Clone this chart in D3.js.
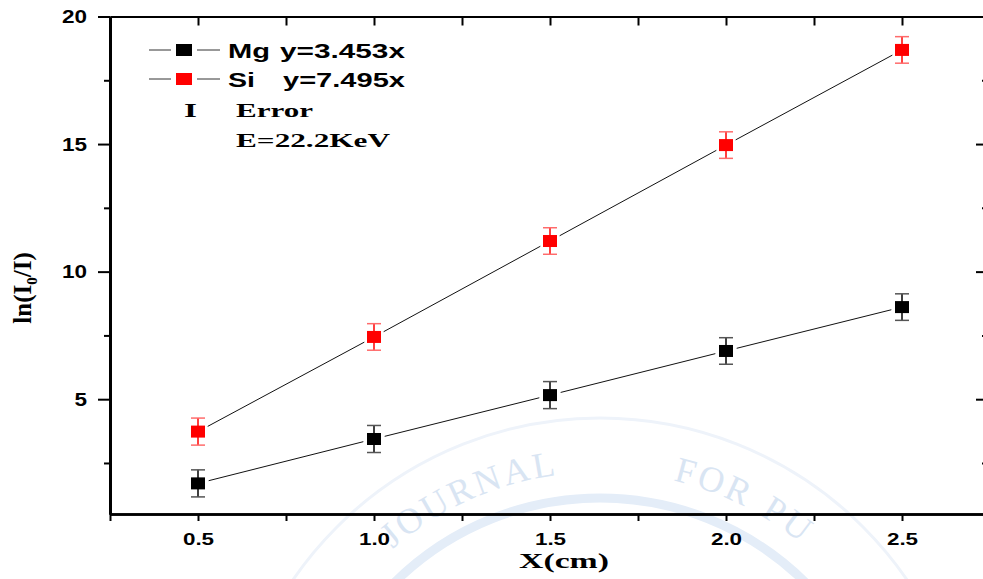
<!DOCTYPE html>
<html><head><meta charset="utf-8">
<script src="https://cdn.jsdelivr.net/npm/d3@7"></script>
<style>html,body{margin:0;padding:0;background:#fff;overflow:hidden}</style>
</head><body><svg id="c" width="983" height="579"></svg>
<script>
// ---- data ----
const xValues = [0.5, 1.0, 1.5, 2.0, 2.5];
const mgValues = [1.70, 3.44, 5.16, 6.89, 8.61];
const siValues = [3.73, 7.44, 11.20, 14.96, 18.69];
const mgErrors = [0.53, 0.53, 0.53, 0.52, 0.52];
const siErrors = [0.53, 0.52, 0.52, 0.52, 0.52];
const xTickLabels = ["0.5", "1.0", "1.5", "2.0", "2.5"];
const yTickValues = [5, 10, 15, 20];
const yTickLabels = ["5", "10", "15", "20"];
const yMinorTicks = [2.5, 7.5, 12.5, 17.5];
const xMinorTicks = [0.25, 0.75, 1.25, 1.75, 2.25, 2.75];
const legendMg = ["Mg", "y=3.453x"];
const legendSi = ["Si", "y=7.495x"];
const legendNotes = ["I", "Error", "E=22.2KeV"];
const xTitle = "X(cm)";
const watermarkWords = ["JOURNAL", "FOR PU"];

const series = [
  {name: "Mg", values: mgValues, errors: mgErrors, color: "#000000", cap: "#555555"},
  {name: "Si", values: siValues, errors: siErrors, color: "#ff0000", cap: "#ff6b6b"}
];

const svg = d3.select("#c");
const L = 110, R = 990, T = 16.5, B = 514;
const x = d3.scaleLinear().domain([0.25, 2.75]).range([L, R]);
const y = d3.scaleLinear().domain([0.5, 20]).range([B, T]);
const SANS = "'Liberation Sans', Arial, sans-serif";
const SERIF = "'Liberation Serif', 'Times New Roman', serif";

// ---- faint journal watermark (letters placed one by one along an arc) ----
const wm = svg.append("g").attr("fill", "none");
const cx = 600, cy = 790;
wm.append("circle").attr("cx", cx).attr("cy", cy).attr("r", 292).attr("stroke", "#e4edf8").attr("stroke-width", 9);
wm.append("circle").attr("cx", cx).attr("cy", cy).attr("r", 372).attr("stroke", "#eef3fa").attr("stroke-width", 3);
const rr = 318, deg = Math.PI / 180;
[[watermarkWords[0], -41], [watermarkWords[1], 13]].forEach(([w, startDeg]) => {
  let theta = startDeg * deg;
  for (const ch of w) {
    const t = wm.append("text").attr("fill", "#d9e5f3").attr("font-family", SERIF)
      .attr("font-size", 36).attr("text-anchor", "middle").text(ch);
    const cw = ch === " " ? 12 : t.node().getComputedTextLength();
    const half = (cw / 2 + 1.5) / rr;
    const a = theta + half;
    const px = cx + rr * Math.sin(a), py = cy - rr * Math.cos(a);
    t.attr("transform", `translate(${px},${py}) rotate(${a / deg})`);
    if (ch === " ") t.remove();
    theta += 2 * half;
  }
});

// ---- connecting lines (shortened near markers) ----
const gap = 11;
series.forEach(s => {
  for (let i = 0; i < xValues.length - 1; i++) {
    const x1 = x(xValues[i]), y1 = y(s.values[i]);
    const x2 = x(xValues[i + 1]), y2 = y(s.values[i + 1]);
    const len = Math.hypot(x2 - x1, y2 - y1);
    const ux = (x2 - x1) / len, uy = (y2 - y1) / len;
    svg.append("line")
      .attr("x1", x1 + ux * gap).attr("y1", y1 + uy * gap)
      .attr("x2", x2 - ux * gap).attr("y2", y2 - uy * gap)
      .attr("stroke", "#111").attr("stroke-width", 1);
  }
});

// ---- error bars and markers ----
series.forEach(s => {
  const g = svg.append("g");
  xValues.forEach((xv, i) => {
    const px = x(xv), lo = y(s.values[i] - s.errors[i]), hi = y(s.values[i] + s.errors[i]);
    g.append("line").attr("x1", px).attr("x2", px).attr("y1", lo).attr("y2", hi)
      .attr("stroke", s.color).attr("stroke-width", 1.5);
    [lo, hi].forEach(cyv => g.append("line").attr("x1", px - 7).attr("x2", px + 7)
      .attr("y1", cyv).attr("y2", cyv).attr("stroke", s.cap).attr("stroke-width", 1.5));
    g.append("rect").attr("x", px - 7).attr("y", y(s.values[i]) - 6)
      .attr("width", 14).attr("height", 12).attr("fill", s.color);
  });
});

// ---- axes ----
function styleAxis(g, w) {
  g.select(".domain").attr("stroke", "#000").attr("stroke-width", w);
  g.selectAll(".tick line").attr("stroke", "#000").attr("stroke-width", 2);
}
// left
const gl = svg.append("g").attr("transform", `translate(${L},0)`)
  .call(d3.axisLeft(y).tickValues(yTickValues).tickSize(12).tickSizeOuter(0)
    .tickFormat((d, i) => yTickLabels[i]));
styleAxis(gl, 3);
gl.selectAll(".tick text").attr("x", 0).attr("dy", "0.35em")
  .attr("transform", "translate(-23,0) scale(1.25,1)")
  .attr("font-family", SANS).attr("font-weight", "bold").attr("font-size", 18).attr("fill", "#000");
const glm = svg.append("g").attr("transform", `translate(${L},0)`)
  .call(d3.axisLeft(y).tickValues(yMinorTicks).tickSize(6).tickSizeOuter(0).tickFormat(""));
styleAxis(glm, 3);
// right (ticks inward)
const gr = svg.append("g").attr("transform", `translate(${R},0)`)
  .call(d3.axisLeft(y).tickValues(yTickValues).tickSize(14).tickSizeOuter(0).tickFormat(""));
styleAxis(gr, 2);
const grm = svg.append("g").attr("transform", `translate(${R},0)`)
  .call(d3.axisLeft(y).tickValues(yMinorTicks).tickSize(8).tickSizeOuter(0).tickFormat(""));
styleAxis(grm, 2);
// bottom
const gb = svg.append("g").attr("transform", `translate(0,${B})`)
  .call(d3.axisBottom(x).tickValues(xValues).tickSize(7).tickSizeOuter(0)
    .tickFormat((d, i) => xTickLabels[i]));
styleAxis(gb, 2.5);
gb.selectAll(".tick text").attr("y", 31).attr("dy", null)
  .attr("transform", "scale(1.4,1)")
  .attr("font-family", SANS).attr("font-weight", "bold").attr("font-size", 16).attr("fill", "#000");
const gbm = svg.append("g").attr("transform", `translate(0,${B})`)
  .call(d3.axisBottom(x).tickValues(xMinorTicks).tickSize(7).tickSizeOuter(0).tickFormat(""));
styleAxis(gbm, 2.5);
// top (ticks inward)
const gt = svg.append("g").attr("transform", `translate(0,${T})`)
  .call(d3.axisBottom(x).tickValues(xValues.concat(xMinorTicks)).tickSize(9).tickSizeOuter(0).tickFormat(""));
styleAxis(gt, 2);

// ---- axis titles ----
svg.append("text").attr("x", 519).attr("y", 568)
  .attr("textLength", 90).attr("lengthAdjust", "spacingAndGlyphs")
  .attr("font-family", SERIF).attr("font-weight", "bold").attr("font-size", 22).attr("fill", "#000")
  .text(xTitle);
const yt = svg.append("text").attr("transform", "translate(31,288) rotate(-90)")
  .attr("text-anchor", "middle")
  .attr("font-family", SERIF).attr("font-weight", "bold").attr("font-size", 25).attr("fill", "#000");
yt.append("tspan").text("ln(I");
yt.append("tspan").attr("font-size", 15).attr("dy", 6).text("0");
yt.append("tspan").attr("dy", -6).text("/I)");

// ---- legend ----
const leg = svg.append("g");
[[series[0], 50, legendMg, [[228, 42], [280, 125]]], [series[1], 79, legendSi, [[228, 27], [283, 122]]]]
  .forEach(([s, ly, txt, pos]) => {
    leg.append("line").attr("x1", 149).attr("x2", 171).attr("y1", ly).attr("y2", ly).attr("stroke", "#333").attr("stroke-width", 1);
    leg.append("line").attr("x1", 197).attr("x2", 220).attr("y1", ly).attr("y2", ly).attr("stroke", "#333").attr("stroke-width", 1);
    leg.append("rect").attr("x", 176).attr("y", ly - 6).attr("width", 16).attr("height", 12).attr("fill", s.color);
    txt.forEach((t, i) => leg.append("text").attr("x", pos[i][0]).attr("y", ly + 8)
      .attr("textLength", pos[i][1]).attr("lengthAdjust", "spacingAndGlyphs")
      .attr("font-family", SANS).attr("font-weight", "bold").attr("font-size", 19.5).attr("fill", "#000").text(t));
  });
[[184, 117, 13, legendNotes[0]], [236, 117, 77, legendNotes[1]], [236, 147, 154, legendNotes[2]]]
  .forEach(([lx, ly, w, t]) => leg.append("text").attr("x", lx).attr("y", ly)
    .attr("textLength", w).attr("lengthAdjust", "spacingAndGlyphs")
    .attr("font-family", SERIF).attr("font-weight", "bold").attr("font-size", 19).attr("fill", "#000").text(t));
</script></body></html>
